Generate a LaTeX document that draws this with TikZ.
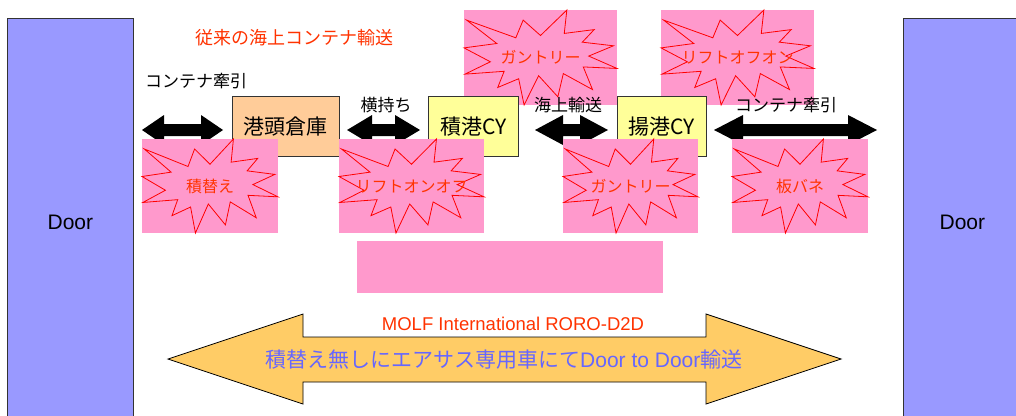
\documentclass[tikz,border=0pt]{standalone}
\usepackage{fontspec}
\setmainfont{Liberation Sans}
\newfontfamily\cjk{Noto Sans CJK JP}
\definecolor{doorblue}{HTML}{9999FF}
\definecolor{burstpink}{HTML}{FF99CC}
\definecolor{peach}{HTML}{FFCC99}
\definecolor{paleyellow}{HTML}{FFFF99}
\definecolor{arroworange}{HTML}{FFCC66}
\definecolor{redorange}{HTML}{FF3300}
\definecolor{textblue}{HTML}{6666FF}
\newcommand\fsz[1]{\fontsize{#1}{#1}\selectfont}
\tikzset{
  door/.style={draw=black!80, line width=0.8pt, fill=doorblue, anchor=north west, font=\fsz{21}, inner sep=0pt},
  portbox/.style={draw=black!80, line width=0.8pt, anchor=north west, font=\cjk\fsz{21}, inner sep=0pt},
  burstbox/.style={fill=burstpink, anchor=north west, inner sep=0pt},
  burstline/.style={draw=red, line width=0.8pt, line join=miter},
  burstlabel/.style={text=redorange, font=\cjk\fsz{16}, inner sep=0pt},
  steplabel/.style={text=black, font=\cjk\fsz{17}, inner sep=0pt},
  movearrowfill/.style={fill=black},
  bigarrow/.style={fill=arroworange, draw=black, line width=0.8pt, line join=miter},
}
\newcommand\burstshape[3]{%
  \begin{scope}[shift={(#1.north west)}, x={(#2pt,0pt)}, y={(0pt,-#3pt)}]
    \path[burstline] (0.5,0.2685) -- (0.6723,0) -- (0.6553,0.2465) -- (0.8509,0.2063)
      -- (0.7732,0.3387) -- (0.9767,0.3767) -- (0.8151,0.4850) -- (1,0.6153)
      -- (0.7795,0.5992) -- (0.8400,0.8377) -- (0.6491,0.6693) -- (0.6133,0.9138)
      -- (0.4876,0.6914) -- (0.3928,1) -- (0.3572,0.7235) -- (0.2205,0.8156)
      -- (0.2624,0.6452) -- (0.00625,0.6753) -- (0.1723,0.5451) -- (0,0.3988)
      -- (0.2142,0.3526) -- (0.0171,0.1063) -- (0.3385,0.2926) -- (0.3867,0.1063) -- cycle;
  \end{scope}}
\newcommand\movearrow[3]{%
  \fill[movearrowfill] (#1,130) -- ({#1+#3},115) -- ({#1+#3},124) -- ({#2-#3},124)
    -- ({#2-#3},115) -- (#2,130) -- ({#2-#3},145) -- ({#2-#3},136)
    -- ({#1+#3},136) -- ({#1+#3},145) -- cycle;}
\begin{document}
\begin{tikzpicture}[x=1pt, y=-1pt]
\useasboundingbox (0,0) rectangle (1016,415);
\fill[white] (0,0) rectangle (1016,415);
% doors
\node[door, minimum width=126pt, minimum height=408pt] (doorL) at (7,18) {Door};
\node[door, minimum width=118pt, minimum height=408pt] (doorR) at (903,18) {Door};
% title
\node[text=redorange, font=\cjk\fsz{18}, inner sep=0pt] (title) at (294,38) {従来の海上コンテナ輸送};
% upper bursts
\node[burstbox, minimum width=153pt, minimum height=95pt] (s3) at (464,10) {};
\burstshape{s3}{153}{95}
\node[burstlabel] (s3l) at (s3.center) {ガントリー};
\node[burstbox, minimum width=153pt, minimum height=95pt] (s4) at (661,10) {};
\burstshape{s4}{153}{95}
\node[burstlabel] (s4l) at (s4.center) {リフトオフオン};
% port boxes
\node[portbox, fill=peach, minimum width=107pt, minimum height=60pt] (whs) at (232,96) {港頭倉庫};
\node[portbox, fill=paleyellow, minimum width=90pt, minimum height=60pt] (cy1) at (428,96) {積港CY};
\node[portbox, fill=paleyellow, minimum width=89pt, minimum height=60pt] (cy2) at (617,96) {揚港CY};
% black double arrows
\movearrow{142}{223}{22}
\movearrow{347}{420}{25}
\movearrow{535}{608}{28}
\movearrow{714}{877}{29}
% lower bursts
\node[burstbox, minimum width=136pt, minimum height=94pt] (s1) at (142,139) {};
\burstshape{s1}{136}{94}
\node[burstlabel] (s1l) at (s1.center) {積替え};
\node[burstbox, minimum width=145pt, minimum height=94pt] (s2) at (339,139) {};
\burstshape{s2}{145}{94}
\node[burstlabel] (s2l) at (s2.center) {リフトオンオフ};
\node[burstbox, minimum width=135pt, minimum height=94pt] (s5) at (563,139) {};
\burstshape{s5}{135}{94}
\node[burstlabel] (s5l) at (s5.center) {ガントリー};
\node[burstbox, minimum width=136pt, minimum height=94pt] (s6) at (732,139) {};
\burstshape{s6}{136}{94}
\node[burstlabel] (s6l) at (s6.center) {板バネ};
% step labels
\node[steplabel] (lab1) at (196,81) {コンテナ牽引};
\node[steplabel] (lab2) at (386,105) {横持ち};
\node[steplabel] (lab3) at (568,105) {海上輸送};
\node[steplabel] (lab4) at (786,105) {コンテナ牽引};
% pink band
\node[burstbox, minimum width=306pt, minimum height=52pt] (band) at (357,241) {};
% big arrow
\path[bigarrow] (168,359) -- (303,314) -- (303,337) -- (706,337) -- (706,314) -- (841,359)
  -- (706,404) -- (706,382) -- (303,382) -- (303,404) -- cycle;
\node[text=redorange, font=\fsz{18.5}, inner sep=0pt] (molf) at (513,324) {MOLF International RORO-D2D};
\node[text=textblue, font=\fsz{21}, inner sep=0pt] (d2d) at (504,360) {{\cjk 積替え無しにエアサス専用車にて}Door to Door{\cjk 輸送}};
\end{tikzpicture}
\end{document}
